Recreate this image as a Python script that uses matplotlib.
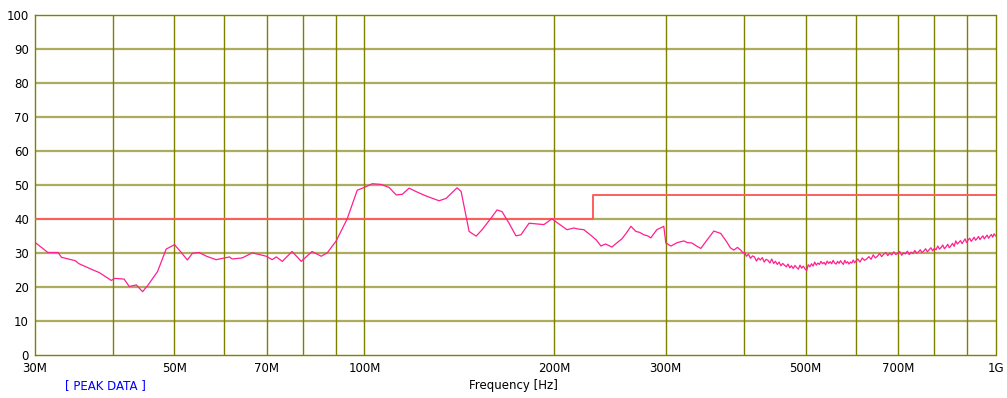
import numpy as np
import matplotlib
matplotlib.use('Agg')
import matplotlib.pyplot as plt
from matplotlib.ticker import FixedLocator, NullLocator

# measured trace, frequency in MHz / level in dB
freq_mhz = [30.0, 31.5, 32.7, 33.1, 34.8, 35.3, 36.9, 38.0, 39.7, 40.2, 41.6, 42.4,
            43.5, 44.5, 45.3, 47.0, 48.5, 50.0, 51.1, 52.4, 53.4, 54.7, 56.2, 58.2,
            61.1, 61.7, 64.0, 66.4, 69.9, 71.4, 72.5, 74.1, 76.8, 79.4, 82.6, 85.4,
            87.3, 90.2, 93.9, 97.4, 99.9, 102.9, 106.3, 109.4, 112.3, 114.8, 117.7,
            120.7, 125.2, 131.3, 134.7, 140.2, 142.3, 144.9, 146.5, 150.3, 153.6,
            158.7, 162.2, 165.2, 169.5, 173.8, 177.0, 182.3, 187.0, 192.5, 198.2,
            203.3, 209.4, 214.7, 218.0, 222.7, 229.3, 233.0, 237.0, 241.0, 246.7,
            250.3, 255.8, 260.0, 264.4, 269.2, 273.0, 277.2, 281.0, 284.3, 290.6,
            298.1, 300.3, 305.9, 313.0, 320.7, 325.0, 330.2, 336.0, 341.2, 348.8,
            357.8, 367.0, 375.1, 380.0, 384.8, 390.0, 394.7, 398.0,
            400, 403, 406, 409, 412, 415, 418, 421, 424, 427, 430, 433, 436, 439,
            442, 445, 448, 451, 454, 457, 460, 463, 466, 469, 472, 475, 478, 481,
            484, 487, 490, 493, 496, 499, 502, 505, 508, 511, 514, 517, 520, 523,
            526, 529, 532, 535, 538, 541, 544, 547, 550, 553, 556, 559, 562, 565,
            568, 571, 574, 577, 580, 583, 586, 589, 592, 595, 598,
            601, 605, 610, 615, 620, 625, 630, 635, 640, 645, 650, 655, 660, 665,
            670, 675, 680, 685, 690, 695, 700, 705, 710, 715, 720, 725, 730, 735,
            740, 745, 750, 755, 760, 765, 770, 775, 780, 785, 790, 795, 800, 805,
            810, 815, 820, 825, 830, 835, 840, 845, 850, 855, 860, 865, 870, 875,
            880, 885, 890, 895, 900, 905, 910, 915, 920, 925, 930, 935, 940, 945,
            950, 955, 960, 965, 970, 975, 980, 985, 990, 995, 1000]
level_db = [33.2, 30.1, 30.1, 28.7, 27.7, 26.8, 25.2, 24.2, 21.9, 22.5, 22.3, 20.1,
            20.6, 18.6, 20.3, 24.5, 31.1, 32.4, 30.4, 27.9, 29.9, 30.1, 29.0, 28.0,
            28.8, 28.2, 28.5, 30.0, 29.0, 28.0, 28.8, 27.5, 30.4, 27.5, 30.4, 29.0,
            30.0, 33.5, 40.0, 48.4, 49.2, 50.3, 50.1, 49.2, 47.0, 47.2, 49.0,
            48.0, 46.7, 45.3, 46.0, 49.1, 48.0, 40.7, 36.3, 34.9, 36.8,
            40.2, 42.6, 42.1, 38.7, 35.0, 35.3, 38.7, 38.5, 38.3, 40.0,
            38.5, 36.8, 37.3, 37.0, 36.8, 34.9, 33.8, 32.0, 32.6, 31.7,
            32.7, 34.1, 35.8, 37.8, 36.3, 36.0, 35.3, 35.0, 34.4, 36.8,
            37.8, 32.9, 32.0, 33.0, 33.5, 33.0, 32.9, 32.0, 31.3, 33.7,
            36.4, 35.7, 33.2, 31.5, 30.8, 31.6, 30.8, 30.0,
            30.2, 29.0, 29.6, 28.4, 29.1, 28.8, 27.6, 28.5, 27.9, 28.6, 27.3, 28.1, 27.8, 27.0,
            28.2, 26.9, 27.5, 26.6, 27.3, 26.2, 26.9, 26.4, 25.9, 26.7, 25.6, 26.2, 25.4, 26.3,
            25.7, 25.2, 26.4, 25.5, 26.1, 25.3, 24.8, 26.5, 25.9, 26.8, 26.1, 27.3, 26.4, 27.0,
            26.6, 27.5, 26.8, 27.2, 26.5, 27.6, 26.9, 27.4, 26.8, 27.8, 27.0, 26.7, 27.5, 26.9,
            27.7, 27.1, 26.6, 27.8, 27.0, 27.4, 26.7, 27.3, 27.0, 27.9, 27.1,
            27.6, 28.2, 27.3, 28.5, 27.8, 28.2, 28.9, 28.1, 29.4, 28.5, 29.0, 29.8, 28.9, 29.6,
            30.1, 29.2, 29.9, 29.4, 30.3, 29.5, 29.9, 30.4, 29.3, 30.0, 29.7, 30.5, 29.5, 30.2,
            29.8, 30.7, 29.9, 30.3, 30.9, 30.0, 30.6, 31.2, 30.3, 30.9, 31.5, 30.6, 31.3, 30.9,
            32.0, 31.1, 31.6, 32.3, 31.2, 31.8, 32.5, 31.5, 32.1, 32.8, 31.9, 33.5, 32.6, 33.1,
            33.6, 32.7, 33.4, 34.1, 33.0, 33.8, 34.3, 33.4, 33.9, 34.6, 33.7, 34.2, 34.8, 33.9,
            34.5, 35.0, 34.1, 34.7, 35.2, 34.3, 34.9, 35.4, 34.6, 35.6, 35.0]

# limit line (step at 230 MHz)
limit_freq = [30, 230, 230, 1000]
limit_db = [40, 40, 47, 47]

grid_freq = [40, 50, 60, 70, 80, 90, 100, 200, 300, 400, 500, 600, 700, 800, 900]
xtick_freq = [30, 50, 70, 100, 200, 300, 500, 700, 1000]
xtick_labels = ['30M', '50M', '70M', '100M', '200M', '300M', '500M', '700M', '1G']
ytick_vals = list(range(0, 101, 10))

fig = plt.figure(figsize=(10.07, 3.98), dpi=100)
ax = fig.add_axes([34.5 / 1007, 43 / 398, 961 / 1007, 340.5 / 398])

ax.set_xscale('log')
ax.set_xlim(30, 1000)
ax.set_ylim(0, 100)

for y in ytick_vals[1:-1]:
    ax.axhline(y, color='#acac5c', lw=1.6, zorder=1)
for f in grid_freq:
    ax.axvline(f, color='#808000', lw=1.0, zorder=1)

ax.plot(limit_freq, limit_db, color='#ff5c5c', lw=1.4, zorder=3)
ax.plot(freq_mhz, level_db, color='#ff1f8f', lw=0.9, zorder=4)

for s in ax.spines.values():
    s.set_color('#808000')
    s.set_linewidth(1.0)

ax.xaxis.set_major_locator(FixedLocator(xtick_freq))
ax.xaxis.set_minor_locator(NullLocator())
ax.set_xticklabels(xtick_labels)
ax.set_yticks(ytick_vals)
ax.tick_params(axis='both', length=0, labelsize=8.5, colors='black')
ax.tick_params(axis='x', pad=5)
ax.tick_params(axis='y', pad=4)

fig.text(0.51, 0.032, 'Frequency [Hz]', ha='center', va='center', fontsize=8.5)
fig.text(0.105, 0.032, '[ PEAK DATA ]', ha='center', va='center', fontsize=8.5,
         color='#0000ff')

fig.savefig('out.png', dpi=100)
